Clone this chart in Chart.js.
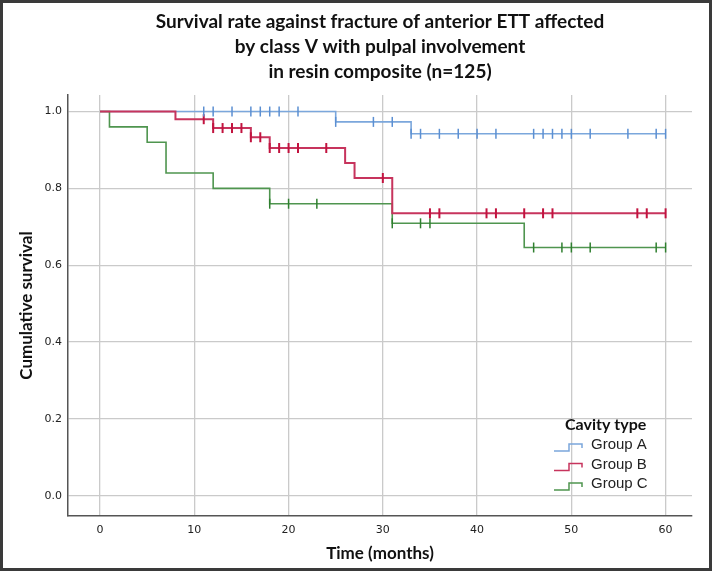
<!DOCTYPE html>
<html>
<head>
<meta charset="utf-8">
<script src="https://cdn.jsdelivr.net/npm/chart.js@4.4.1/dist/chart.umd.min.js"></script>
<style>
  html, body { margin: 0; padding: 0; background: #fff; }
</style>
</head>
<body>
<canvas id="km" width="712" height="571"></canvas>
<script>
// axis ticks
const xTicks = [0, 10, 20, 30, 40, 50, 60];
const yTicks = [0.0, 0.2, 0.4, 0.6, 0.8, 1.0];

const groupNames = ['Group A', 'Group B', 'Group C'];

// Kaplan-Meier steps (time in months, cumulative survival)
const timesA = [0, 25, 33, 60];
const survA  = [1.0, 0.973, 0.942, 0.942];
const censA  = [11, 12, 14, 16, 17, 18, 19, 21, 25, 29, 31, 33, 34, 36, 38, 40, 42, 46, 47, 48, 49, 50, 52, 56, 59, 60];

const timesB = [0, 8, 12, 16, 18, 26, 27, 31, 60];
const survB  = [1.0, 0.98, 0.957, 0.933, 0.905, 0.866, 0.827, 0.735, 0.735];
const censB  = [11, 12, 13, 14, 15, 16, 17, 18, 19, 20, 21, 24, 30, 35, 36, 41, 42, 45, 47, 48, 57, 58, 60];

const timesC = [0, 1, 5, 7, 12, 18, 31, 45, 60];
const survC  = [1.0, 0.96, 0.92, 0.84, 0.80, 0.76, 0.709, 0.646, 0.646];
const censC  = [18, 20, 23, 31, 34, 35, 46, 49, 50, 52, 59, 60];

const lineColors = ['#7ba7dc', '#c7345d', '#4f954f'];
const markColors = ['#5b8fd2', '#c2133f', '#2f7f2f'];

function survAt(times, surv, t) {
    let s = surv[0];
    for (let i = 0; i < times.length; i++) {
        if (times[i] <= t) s = surv[i];
    }
    return s;
}

function stepData(times, surv) {
    return times.map((t, i) => ({ x: t, y: surv[i] }));
}

function censorData(cens, times, surv) {
    return cens.map(t => ({ x: t, y: survAt(times, surv, t) }));
}

const series = [
    { times: timesA, surv: survA, cens: censA },
    { times: timesB, surv: survB, cens: censB },
    { times: timesC, surv: survC, cens: censC },
];

const datasets = [];
series.forEach((s, i) => {
    datasets.push({
        type: 'scatter',
        label: groupNames[i] + ' censored',
        data: censorData(s.cens, s.times, s.surv),
        showLine: false,
        pointStyle: 'line',
        rotation: 90,
        radius: 5,
        borderColor: markColors[i],
        backgroundColor: markColors[i],
        borderWidth: i === 1 ? 2 : 1.5,
        order: 0
    });
});
// red drawn over blue and green
[2, 0, 1].forEach(i => {
    const s = series[i];
    datasets.push({
        type: 'line',
        label: groupNames[i],
        data: stepData(s.times, s.surv),
        stepped: 'before',
        borderColor: lineColors[i],
        borderWidth: i === 1 ? 2 : 1.6,
        pointRadius: 0,
        fill: false,
        order: i === 1 ? 1 : 2
    });
});

// white background + dark frame
const framePlugin = {
    id: 'frame',
    beforeDraw(chart) {
        const ctx = chart.ctx;
        ctx.save();
        ctx.fillStyle = '#fff';
        ctx.fillRect(0, 0, chart.width, chart.height);
        ctx.restore();
    },
    afterDraw(chart) {
        const ctx = chart.ctx;
        ctx.save();
        ctx.strokeStyle = '#3a3a3a';
        ctx.lineWidth = 3;
        ctx.strokeRect(1.5, 1.5, chart.width - 3, chart.height - 3);
        ctx.restore();
    }
};

// legend with step icons, bottom right of plot
const cavityLegend = {
    id: 'cavityLegend',
    afterDatasetsDraw(chart) {
        const ctx = chart.ctx;
        const area = chart.chartArea;
        const x0 = area.right - 138;
        ctx.save();
        ctx.fillStyle = '#111';
        ctx.font = 'bold 16px Lato';
        ctx.textBaseline = 'middle';
        ctx.textAlign = 'left';
        ctx.fillText('Cavity type', x0 + 11, area.bottom - 91);
        ctx.font = '15px "Liberation Sans"';
        groupNames.forEach((name, i) => {
            const cy = area.bottom - 71 + i * 19.5;
            ctx.strokeStyle = lineColors[i];
            ctx.lineWidth = 1.5;
            ctx.beginPath();
            ctx.moveTo(x0, cy + 6);
            ctx.lineTo(x0 + 15, cy + 6);
            ctx.lineTo(x0 + 15, cy - 1);
            ctx.lineTo(x0 + 28, cy - 1);
            ctx.lineTo(x0 + 28, cy + 3);
            ctx.stroke();
            ctx.fillStyle = '#222';
            ctx.fillText(name, x0 + 37, cy);
        });
        ctx.restore();
    }
};

const ctx = document.getElementById('km').getContext('2d');
new Chart(ctx, {
    data: { datasets: datasets },
    options: {
        responsive: false,
        animation: false,
        layout: { padding: { left: 0, right: 20, top: 0, bottom: 0 } },
        plugins: {
            legend: { display: false },
            tooltip: { enabled: false },
            title: {
                display: true,
                fullSize: false,
                text: [
                    'Survival rate against fracture of anterior ETT affected',
                    'by class V with pulpal involvement',
                    'in resin composite (n=125)'
                ],
                color: '#111',
                font: { family: 'Lato', weight: 'bold', size: 19, lineHeight: 1.316 },
                padding: { top: 9.5, bottom: 10.5 }
            }
        },
        scales: {
            x: {
                type: 'linear',
                min: -3.4,
                max: 62.8,
                afterBuildTicks: s => { s.ticks = xTicks.map(v => ({ value: v })); },
                afterFit: s => { s.height = 55; },
                grid: { color: '#cacaca', lineWidth: 1.3, drawTicks: false },
                border: { display: true, color: '#555', width: 1.5 },
                ticks: { padding: 8, color: '#222', font: { family: 'DejaVu Sans', size: 11 } },
                title: {
                    display: true,
                    text: 'Time (months)',
                    color: '#111',
                    font: { family: 'Lato', weight: 'bold', size: 17 },
                    padding: { top: 0, bottom: 7 }
                }
            },
            y: {
                type: 'linear',
                min: -0.053,
                max: 1.043,
                afterBuildTicks: s => { s.ticks = yTicks.map(v => ({ value: v })); },
                afterFit: s => { s.width = 68; },
                grid: { color: '#cacaca', lineWidth: 1.3, drawTicks: false },
                border: { display: true, color: '#555', width: 1.5 },
                ticks: {
                    padding: 6,
                    color: '#222',
                    font: { family: 'DejaVu Sans', size: 11 },
                    callback: v => v.toFixed(1)
                },
                title: {
                    display: true,
                    text: 'Cumulative survival',
                    color: '#111',
                    font: { family: 'Lato', weight: 'bold', size: 17 },
                    padding: { top: 16, bottom: 0 }
                }
            }
        }
    },
    plugins: [framePlugin, cavityLegend]
});
</script>
</body>
</html>
